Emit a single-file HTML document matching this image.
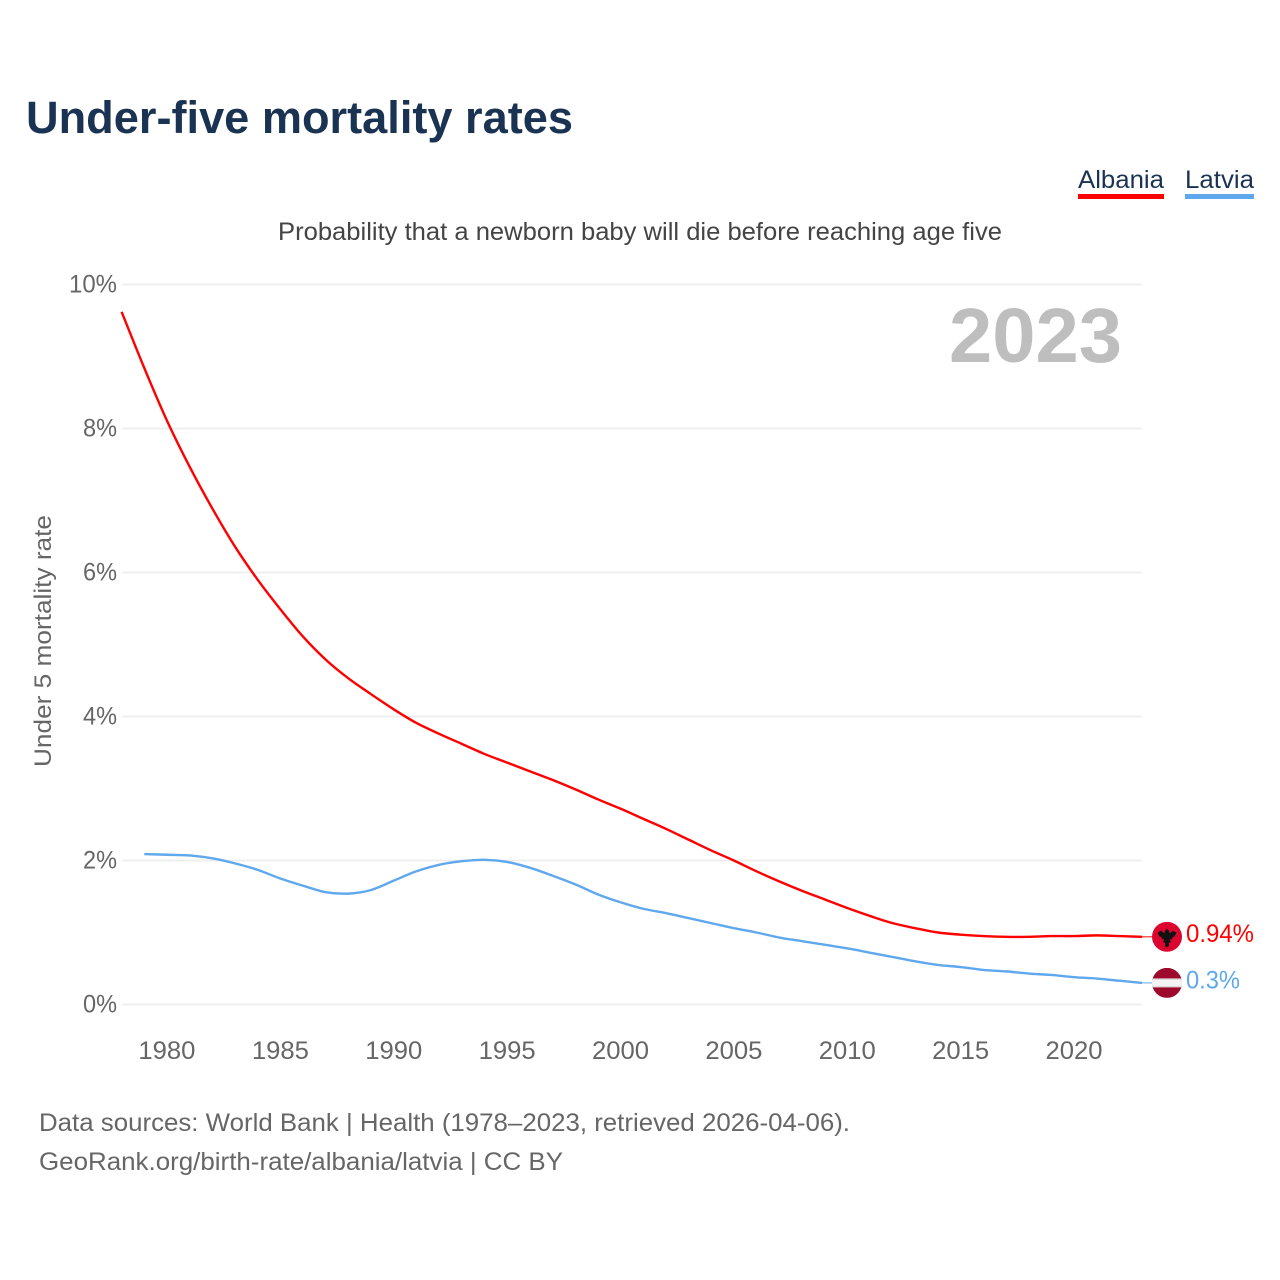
<!DOCTYPE html>
<html lang="en">
<head>
<meta charset="utf-8">
<title>Under-five mortality rates</title>
<style>
html,body{margin:0;padding:0;background:#fff;width:1280px;height:1280px;overflow:hidden}
svg{display:block;font-family:"Liberation Sans",sans-serif}
</style>
</head>
<body>
<svg id="chart" xmlns="http://www.w3.org/2000/svg" width="1280" height="1280" viewBox="0 0 1280 1280">
  <defs>
    <clipPath id="clip-albania"><circle id="clip-albania-circle" cx="1167" cy="936" r="15"/></clipPath>
    <clipPath id="clip-latvia"><circle id="clip-latvia-circle" cx="1167" cy="983" r="15"/></clipPath>
  </defs>
  <rect width="1280" height="1280" fill="#fff"/>
  <text x="26" y="133" font-size="45" font-weight="700" fill="#1a3352" textLength="547" lengthAdjust="spacingAndGlyphs">Under-five mortality rates</text>
  <text x="1078" y="188" font-size="25" fill="#1a3352" textLength="86" lengthAdjust="spacingAndGlyphs">Albania</text>
  <rect x="1078" y="194" width="86" height="5" fill="#ff0000"/>
  <text x="1185" y="188" font-size="25" fill="#1a3352" textLength="69" lengthAdjust="spacingAndGlyphs">Latvia</text>
  <rect x="1185" y="194" width="69" height="5" fill="#5fa8ee"/>
  <text x="278" y="240" font-size="25" fill="#444" textLength="724" lengthAdjust="spacingAndGlyphs">Probability that a newborn baby will die before reaching age five</text>
  <text x="949" y="362" font-size="77" font-weight="700" fill="#bebebe" textLength="173" lengthAdjust="spacingAndGlyphs">2023</text>
  <text transform="translate(51 767) rotate(-90)" font-size="24" fill="#666" textLength="252" lengthAdjust="spacingAndGlyphs">Under 5 mortality rate</text>
  <g id="grid"></g>
  <g id="y-axis"></g>
  <g id="x-axis"></g>
  <g id="series"></g>
  <g id="flag-albania" clip-path="url(#clip-albania)">
    <rect id="flag-albania-bg" x="1152" width="30" height="30" fill="#dc0530"/>
    <path id="flag-albania-eagle" fill="#111" d="M-10-5-6-7-3-4-2-7 0-9 2-7 3-4 6-7 10-5 8-1 6 0 5 2 3 2 4 5 2 6 2 9 0 11-2 9-2 6-4 5-3 2-5 2-6 0-8-1Z"/>
  </g>
  <g id="flag-latvia" clip-path="url(#clip-latvia)">
    <rect id="flag-latvia-bg" x="1152" width="30" height="30" fill="#9e0a2c"/>
    <rect id="flag-latvia-edge" x="1152" width="30" height="9" fill="#dcdcdc"/>
    <rect id="flag-latvia-band" x="1152" width="30" height="6" fill="#f4f4f4"/>
  </g>
  <g id="end-labels"></g>
  <text x="39" y="1131" font-size="25" fill="#666" textLength="811" lengthAdjust="spacingAndGlyphs">Data sources: World Bank | Health (1978–2023, retrieved 2026-04-06).</text>
  <text x="39" y="1170" font-size="25" fill="#666" textLength="524" lengthAdjust="spacingAndGlyphs">GeoRank.org/birth-rate/albania/latvia | CC BY</text>
</svg>
<script>
const albaniaYears = [1978,1979,1980,1981,1982,1983,1984,1985,1986,1987,1988,1989,1990,1991,1992,1993,1994,1995,1996,1997,1998,1999,2000,2001,2002,2003,2004,2005,2006,2007,2008,2009,2010,2011,2012,2013,2014,2015,2016,2017,2018,2019,2020,2021,2022,2023];
const albaniaValues = [9.62,8.84,8.11,7.47,6.89,6.36,5.90,5.49,5.11,4.79,4.53,4.31,4.10,3.91,3.76,3.62,3.48,3.36,3.24,3.12,2.99,2.85,2.72,2.58,2.44,2.29,2.14,2.00,1.85,1.71,1.58,1.46,1.34,1.23,1.13,1.06,1.00,0.97,0.95,0.94,0.94,0.95,0.95,0.96,0.95,0.94];
const latviaYears = [1979,1980,1981,1982,1983,1984,1985,1986,1987,1988,1989,1990,1991,1992,1993,1994,1995,1996,1997,1998,1999,2000,2001,2002,2003,2004,2005,2006,2007,2008,2009,2010,2011,2012,2013,2014,2015,2016,2017,2018,2019,2020,2021,2022,2023];
const latviaValues = [2.09,2.08,2.07,2.03,1.96,1.87,1.75,1.65,1.56,1.54,1.59,1.72,1.85,1.94,1.99,2.01,1.98,1.90,1.79,1.67,1.53,1.42,1.33,1.27,1.20,1.13,1.06,1.00,0.93,0.88,0.83,0.78,0.72,0.66,0.60,0.55,0.52,0.48,0.46,0.43,0.41,0.38,0.36,0.33,0.30];
const yTickValues = [0,2,4,6,8,10];
const yTickLabels = ["0%","2%","4%","6%","8%","10%"];
const xTickValues = [1980,1985,1990,1995,2000,2005,2010,2015,2020];
const xTickLabels = ["1980","1985","1990","1995","2000","2005","2010","2015","2020"];
const albaniaEndLabel = "0.94%";
const latviaEndLabel = "0.3%";

const NS = "http://www.w3.org/2000/svg";
const xDomain = [1978, 2023], xRange = [121.6, 1142];
const yDomain = [0, 10], yRange = [1004.5, 284.5];
function xScale(v){ return xRange[0] + (v - xDomain[0]) / (xDomain[1] - xDomain[0]) * (xRange[1] - xRange[0]); }
function yScale(v){ return yRange[0] + (v - yDomain[0]) / (yDomain[1] - yDomain[0]) * (yRange[1] - yRange[0]); }
function make(tag, attrs, parent){
  const el = document.createElementNS(NS, tag);
  for (const k in attrs) el.setAttribute(k, attrs[k]);
  parent.appendChild(el);
  return el;
}
const gridG = document.getElementById("grid");
const yG = document.getElementById("y-axis");
const xG = document.getElementById("x-axis");
const seriesG = document.getElementById("series");
const labelG = document.getElementById("end-labels");

yTickValues.forEach(function(v, i){
  const line = make("line", {x1:122, x2:1142, y1:yScale(v), y2:yScale(v), stroke:"#eeeeee", "stroke-width":1.7}, gridG);
  
  
  const lab = yTickLabels[i];
  const t = make("text", {x:117, y:yScale(v)+8, "font-size":25, fill:"#666", "text-anchor":"end", textLength:lab.length === 3 ? 48 : 34, lengthAdjust:"spacingAndGlyphs"}, yG);
  t.textContent = lab;
  
  
});
xTickValues.forEach(function(v, i){
  const t = make("text", {x:xScale(v), y:1059, "font-size":25, fill:"#666", "text-anchor":"middle", textLength:57, lengthAdjust:"spacingAndGlyphs"}, xG);
  t.textContent = xTickLabels[i];
  
  
});
function pathFor(years, values){
  const xs = years.map(xScale);
  const ys = values.map(yScale);
  const n = xs.length;
  function slope(i){
    const a = Math.max(i - 1, 0), b = Math.min(i + 1, n - 1);
    return (ys[b] - ys[a]) / (xs[b] - xs[a]);
  }
  let d = "M" + xs[0].toFixed(2) + " " + ys[0].toFixed(2);
  for (let i = 0; i < n - 1; i++){
    const h = (xs[i + 1] - xs[i]) / 3;
    d += "C" + (xs[i] + h).toFixed(2) + " " + (ys[i] + slope(i) * h).toFixed(2) + " " +
         (xs[i + 1] - h).toFixed(2) + " " + (ys[i + 1] - slope(i + 1) * h).toFixed(2) + " " +
         xs[i + 1].toFixed(2) + " " + ys[i + 1].toFixed(2);
  }
  return d;
}
const albaniaLine = make("path", {d:pathFor(albaniaYears, albaniaValues), fill:"none", stroke:"#ff0000", "stroke-width":2.4, "stroke-linejoin":"round"}, seriesG);


const latviaLine = make("path", {d:pathFor(latviaYears, latviaValues), fill:"none", stroke:"#5fa8ee", "stroke-width":2.4, "stroke-linejoin":"round"}, seriesG);



const albaniaEndY = yScale(albaniaValues[albaniaValues.length - 1]);
const latviaEndY = yScale(latviaValues[latviaValues.length - 1]);
const albaniaLead = make("line", {x1:1142, x2:1153, y1:albaniaEndY, y2:albaniaEndY, stroke:"#ff0000", "stroke-width":1}, seriesG);


const latviaLead = make("line", {x1:1142, x2:1153, y1:latviaEndY, y2:latviaEndY, stroke:"#5fa8ee", "stroke-width":1}, seriesG);



const cxFlag = 1167;
document.getElementById("clip-albania-circle").setAttribute("cy", albaniaEndY);
document.getElementById("clip-latvia-circle").setAttribute("cy", latviaEndY);
document.getElementById("flag-albania-bg").setAttribute("y", albaniaEndY - 15);
document.getElementById("flag-albania-eagle").setAttribute("transform", "translate(" + cxFlag + " " + (albaniaEndY + 0.5) + ") scale(0.95)");
document.getElementById("flag-latvia-bg").setAttribute("y", latviaEndY - 15);
document.getElementById("flag-latvia-edge").setAttribute("y", latviaEndY - 4.5);
document.getElementById("flag-latvia-band").setAttribute("y", latviaEndY - 3);

const albaniaText = make("text", {x:1186, y:albaniaEndY + 5, "font-size":25, fill:"#ff0000", textLength:68, lengthAdjust:"spacingAndGlyphs"}, labelG);
albaniaText.textContent = albaniaEndLabel;


const latviaText = make("text", {x:1186, y:latviaEndY + 5.5, "font-size":25, fill:"#5fa8ee", textLength:54, lengthAdjust:"spacingAndGlyphs"}, labelG);
latviaText.textContent = latviaEndLabel;


</script>
</body>
</html>
